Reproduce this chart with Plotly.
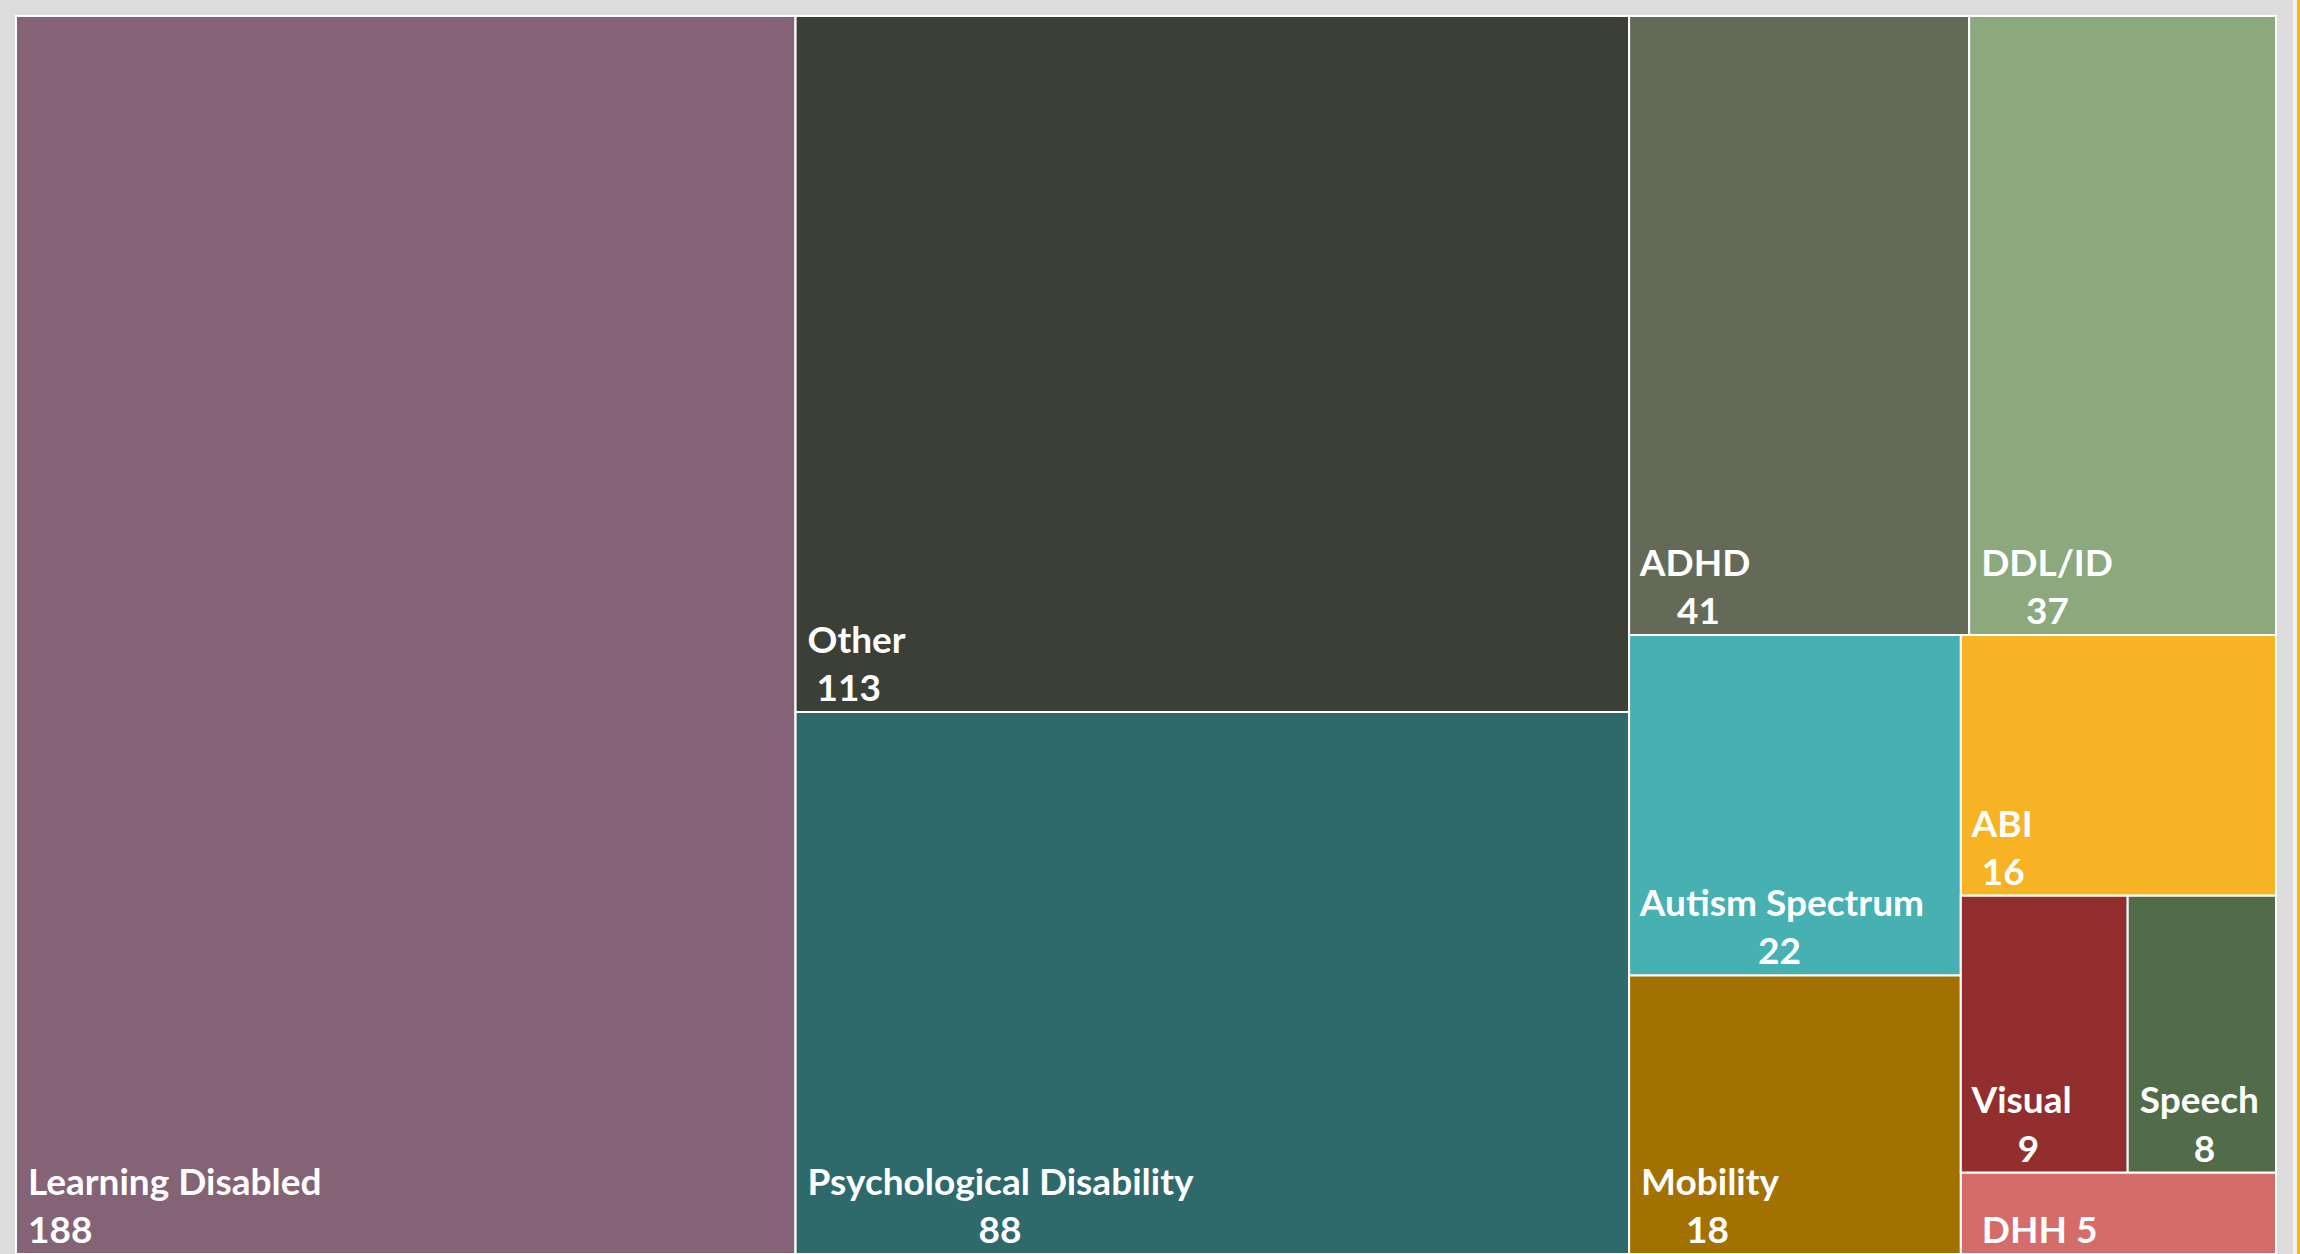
import plotly.graph_objects as go

# disability categories and student counts
categories = ["Learning Disabled", "Other", "Psychological Disability", "ADHD", "DDL/ID",
              "Autism Spectrum", "Mobility", "ABI", "Visual", "Speech", "DHH"]
counts = [188, 113, 88, 41, 37, 22, 18, 16, 9, 8, 5]
colors = ["#836375", "#3C3F35", "#2E6A6C", "#656A58", "#8BA97C",
          "#46B0B3", "#A37002", "#F6B323", "#922F2E", "#526B48", "#D46C69"]

# invisible grouping so slice-dice packing reproduces the slide's block layout
parent_of = {
    "Learning Disabled": "",
    "mid": "", "Other": "mid", "Psychological Disability": "mid",
    "right": "", "right_top": "right", "ADHD": "right_top", "DDL/ID": "right_top",
    "right_low": "right", "low_left": "right_low",
    "Autism Spectrum": "low_left", "Mobility": "low_left",
    "low_right": "right_low", "ABI": "low_right",
    "vis_speech": "low_right", "Visual": "vis_speech", "Speech": "vis_speech",
    "DHH": "low_right",
}
# on the slide this one count sits flush left instead of centred under its label
left_flush = {"Learning Disabled"}

FONT = "Lato"
SIZE = 37
SP = "\u00a0"
SP_W = 0.245


def text_width(s):
    # rough Lato Bold advance widths (em)
    w = 0
    for ch in s:
        if ch in " " + SP:
            w += SP_W
        elif ch in "iljItfr/":
            w += 0.28
        elif ch in "mwMW":
            w += 0.8
        elif ch.isdigit():
            w += 0.52
        elif ch.isupper():
            w += 0.72
        else:
            w += 0.5
    return w


def label_template(name, value):
    if value < 6:
        return SP * 2 + "%{label} %{value}"
    if name in left_flush:
        return SP + "%{label}<br>" + SP + "%{value}"
    gap = (text_width(name) - text_width(str(value))) / 2
    pad = SP * max(0, round(gap / SP_W))
    return SP + "%{label}<br>" + SP + pad + "%{value}"


value_of = dict(zip(categories, counts))
color_of = dict(zip(categories, colors))

ids, parents, values, node_colors, templates = [], [], [], [], []
for node, par in parent_of.items():
    ids.append(node)
    parents.append(par)
    if node in value_of:
        values.append(value_of[node])
        node_colors.append(color_of[node])
        templates.append(label_template(node, value_of[node]))
    else:
        values.append(0)
        node_colors.append("rgba(0,0,0,0)")
        templates.append("")

fig = go.Figure(go.Treemap(
    ids=ids,
    labels=ids,
    parents=parents,
    values=values,
    branchvalues="remainder",
    sort=False,
    texttemplate=templates,
    textposition="bottom left",
    textfont=dict(family=FONT, size=SIZE, color="white", weight="bold"),
    marker=dict(colors=node_colors, line=dict(color="white", width=2),
                pad=dict(t=0, l=0, r=0, b=0)),
    tiling=dict(packing="slice-dice", pad=0),
    pathbar=dict(visible=False),
    root=dict(color="rgba(0,0,0,0)"),
    hoverinfo="label+value",
))

# slide frame: thin white and orange stripes at the right edge
fig.add_shape(type="rect", xref="paper", yref="paper", x0=1.0093 - 4 / 2260, x1=1.0093,
              y0=0, y1=1.02, fillcolor="#f2f2f2", line_width=0, layer="below")
fig.add_shape(type="rect", xref="paper", yref="paper", x0=1.0093, x1=1.011,
              y0=0, y1=1.02, fillcolor="#F6B323", line_width=0, layer="below")

fig.update_layout(
    width=2300,
    height=1254,
    margin=dict(l=16, r=24, t=16, b=0),
    paper_bgcolor="#dcdcdc",
    showlegend=False,
)

fig.write_html("out.html", config={"displayModeBar": False},
               post_script="document.body.style.margin='0';")
